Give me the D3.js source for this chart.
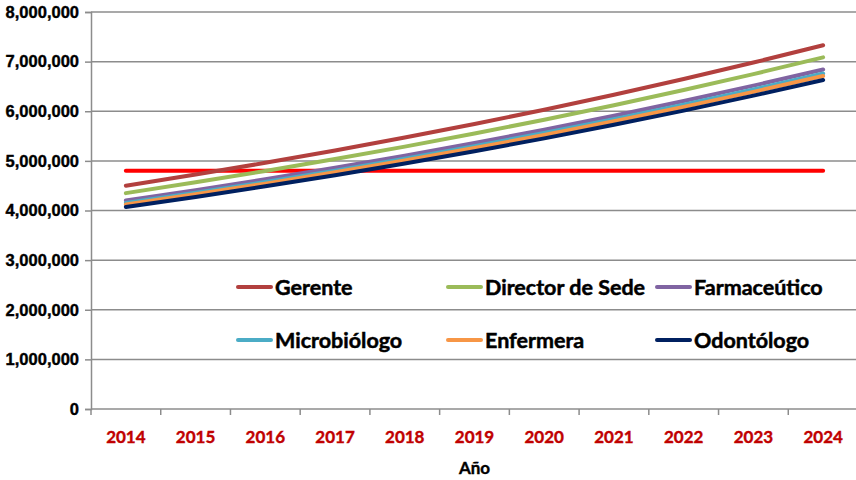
<!DOCTYPE html>
<html>
<head>
<meta charset="utf-8">
<script src="https://cdn.jsdelivr.net/npm/d3@7"></script>
<style>
  body { margin: 0; background: #fff; }
  svg { display: block; font-family: Lato, "Liberation Sans", sans-serif; }
  text { stroke: currentColor; }
</style>
</head>
<body>
<svg width="856" height="480"></svg>
<script>
// values
const years = ["2014", "2015", "2016", "2017", "2018", "2019", "2020", "2021", "2022", "2023", "2024"];
const yTicks = [0, 1000000, 2000000, 3000000, 4000000, 5000000, 6000000, 7000000, 8000000];

const gerente      = [4500000, 4725000, 4961000, 5209000, 5470000, 5743000, 6030000, 6332000, 6649000, 6981000, 7330000];
const director     = [4350000, 4568000, 4796000, 5036000, 5287000, 5552000, 5829000, 6121000, 6427000, 6748000, 7086000];
const farmaceutico = [4200000, 4410000, 4631000, 4862000, 5105000, 5360000, 5628000, 5910000, 6205000, 6516000, 6841000];
const microbiologo = [4150000, 4358000, 4575000, 4804000, 5044000, 5297000, 5561000, 5839000, 6131000, 6438000, 6760000];
const enfermera    = [4120000, 4326000, 4542000, 4769000, 5008000, 5258000, 5521000, 5797000, 6087000, 6391000, 6711000];
const odontologo   = [4070000, 4274000, 4487000, 4712000, 4947000, 5194000, 5454000, 5727000, 6013000, 6314000, 6630000];
const limite       = [4800000, 4800000, 4800000, 4800000, 4800000, 4800000, 4800000, 4800000, 4800000, 4800000, 4800000];

const series = [
  {name: null, values: limite, color: "#ff0000"},
  {name: "Gerente", values: gerente, color: "#b2403e"},
  {name: "Director de Sede", values: director, color: "#9bbb59"},
  {name: "Farmaceútico", values: farmaceutico, color: "#8064a2"},
  {name: "Microbiólogo", values: microbiologo, color: "#4bacc6"},
  {name: "Enfermera", values: enfermera, color: "#f79646"},
  {name: "Odontólogo", values: odontologo, color: "#002060"}
];

const svg = d3.select("svg"),
    margin = {top: 12, right: -2, bottom: 71, left: 91},
    width = +svg.attr("width") - margin.left - margin.right,
    height = +svg.attr("height") - margin.top - margin.bottom,
    g = svg.append("g").attr("transform", "translate(" + margin.left + "," + margin.top + ")");

const x = d3.scaleBand()
    .domain(years)
    .range([0, width]);

const y = d3.scaleLinear()
    .domain([0, 8000000])
    .range([height, 0]);

const grey = "#8c8c8c";

// gridlines
g.append("g")
  .selectAll("line")
  .data(yTicks.slice(1))
  .enter().append("line")
    .attr("x1", 0).attr("x2", width)
    .attr("y1", function(d) { return y(d); })
    .attr("y2", function(d) { return y(d); })
    .attr("stroke", grey)
    .attr("stroke-width", 1.5);

// y axis
const yAxis = g.append("g")
    .call(d3.axisLeft(y).tickValues(yTicks).tickSize(6).tickPadding(6).tickFormat(d3.format(",")));
yAxis.select(".domain").attr("stroke", grey).attr("stroke-width", 1.5);
yAxis.selectAll(".tick line").attr("stroke", grey).attr("stroke-width", 1.5);
yAxis.selectAll("text")
    .attr("fill", "#000")
    .style("color", "#000")
    .style("stroke-width", 0.4)
    .style("font-size", "16.5px")
    .style("font-weight", "bold");

// x axis, ticks on band edges
const xAxis = g.append("g").attr("transform", "translate(0," + height + ")");
xAxis.append("line")
    .attr("x1", 0).attr("x2", width)
    .attr("stroke", grey).attr("stroke-width", 1.5);
xAxis.selectAll(".edge")
  .data(years)
  .enter().append("line")
    .attr("class", "edge")
    .attr("x1", function(d) { return x(d); })
    .attr("x2", function(d) { return x(d); })
    .attr("y1", 0).attr("y2", 6)
    .attr("stroke", grey).attr("stroke-width", 1.5);
xAxis.selectAll("text")
  .data(years)
  .enter().append("text")
    .attr("x", function(d) { return x(d) + x.bandwidth() / 2; })
    .attr("y", 34)
    .attr("text-anchor", "middle")
    .attr("fill", "#c00000")
    .style("color", "#c00000")
    .style("stroke-width", 0.4)
    .style("font-size", "17px")
    .style("font-weight", "bold")
    .text(function(d) { return d; });

svg.append("text")
    .attr("x", margin.left + width / 2)
    .attr("y", 474)
    .attr("text-anchor", "middle")
    .style("color", "#000")
    .style("stroke-width", 0.4)
    .style("font-size", "17px")
    .style("font-weight", "bold")
    .text("Año");

// lines
const line = d3.line()
    .x(function(d, i) { return x(years[i]) + x.bandwidth() / 2; })
    .y(function(d) { return y(d); });

g.append("g")
  .selectAll("path")
  .data(series)
  .enter().append("path")
    .attr("fill", "none")
    .attr("stroke", function(d) { return d.color; })
    .attr("stroke-width", 4)
    .attr("stroke-linecap", "round")
    .attr("d", function(d) { return line(d.values); });

// legend
const legendPos = [[238, 287], [448, 287], [657, 287], [238, 340], [448, 340], [657, 340]];
const legend = svg.append("g")
  .selectAll("g")
  .data(series.filter(function(d) { return d.name; }))
  .enter().append("g")
    .attr("transform", function(d, i) { return "translate(" + legendPos[i][0] + "," + legendPos[i][1] + ")"; });
legend.append("line")
    .attr("x1", 0).attr("x2", 33)
    .attr("stroke", function(d) { return d.color; })
    .attr("stroke-width", 4)
    .attr("stroke-linecap", "round");
legend.append("text")
    .attr("x", 37)
    .attr("dy", "0.35em")
    .style("color", "#000")
    .style("stroke-width", 0.5)
    .style("font-size", "21.5px")
    .style("font-weight", "bold")
    .text(function(d) { return d.name; });
</script>
</body>
</html>
